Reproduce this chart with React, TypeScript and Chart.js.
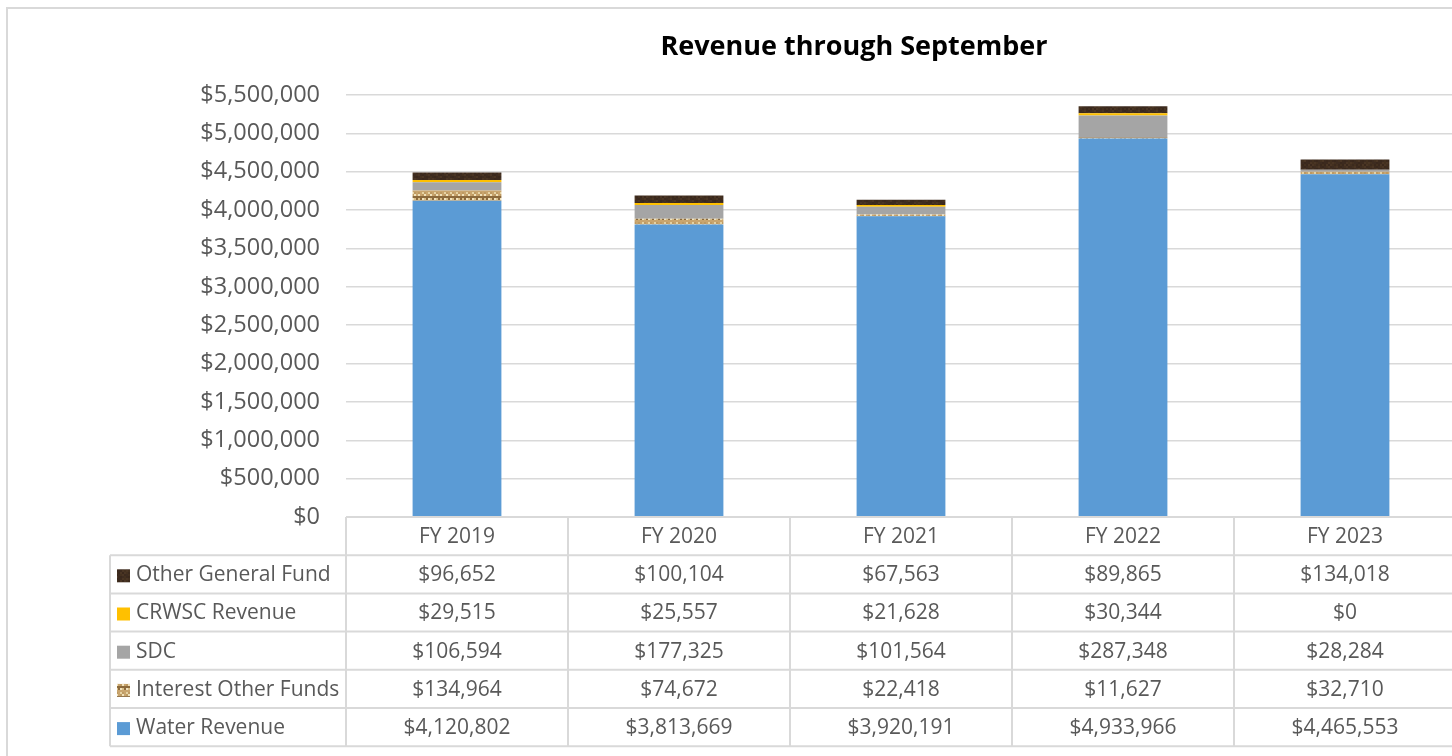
import React, { useEffect, useRef } from 'react';
import { Chart, registerables } from 'chart.js';

Chart.register(...registerables);

const title = 'Revenue through September';
const categories = ['FY 2019', 'FY 2020', 'FY 2021', 'FY 2022', 'FY 2023'];
const waterRevenue = [4120802, 3813669, 3920191, 4933966, 4465553];
const interestOtherFunds = [134964, 74672, 22418, 11627, 32710];
const sdc = [106594, 177325, 101564, 287348, 28284];
const crwscRevenue = [29515, 25557, 21628, 30344, 0];
const otherGeneralFund = [96652, 100104, 67563, 89865, 134018];
const seriesNames = ['Water Revenue', 'Interest Other Funds', 'SDC', 'CRWSC Revenue', 'Other General Fund'];
const yMax = 5500000;
const yStep = 500000;

const FONT = '"Open Sans", "Noto Sans", sans-serif';
const TEXT = '#595959';
const LINE = '#d9d9d9';

const fmt = (v: number) => '$' + Math.round(v).toLocaleString('en-US');

function makeTexture(base: string[], w: number, h: number, cell: number): CanvasPattern | string {
  const c = document.createElement('canvas');
  c.width = w * cell;
  c.height = h * cell;
  const g = c.getContext('2d');
  if (!g) return base[0];
  for (let y = 0; y < h; y++) {
    for (let x = 0; x < w; x++) {
      const k = (x * 7 + y * 13 + ((x * y) % 3)) % base.length;
      g.fillStyle = base[k];
      g.fillRect(x * cell, y * cell, cell, cell);
    }
  }
  const p = g.createPattern(c, 'repeat');
  return p || base[0];
}

export default function App() {
  const ref = useRef<HTMLCanvasElement | null>(null);

  useEffect(() => {
    if (!ref.current) return;
    const tan = makeTexture(['#C9A56E', '#E6D2A2', '#A8844E', '#D9BE88', '#8C6A3C', '#F0E2BC', '#BE9A62'], 11, 5, 2);
    const brown = makeTexture(['#3C2A1E', '#43301F', '#3A281C', '#4A3524', '#3E2C20'], 9, 4, 2);
    const colors: any[] = ['#5B9BD5', tan, '#A5A5A5', '#FFC000', brown];
    const values = [waterRevenue, interestOtherFunds, sdc, crwscRevenue, otherGeneralFund];

    const tablePlugin = {
      id: 'dataTable',
      beforeDraw(chart: any) {
        const { ctx } = chart;
        ctx.save();
        ctx.strokeStyle = LINE;
        ctx.lineWidth = 2;
        ctx.strokeRect(7, 8, chart.width + 20, chart.height + 20);
        ctx.restore();
      },
      afterDraw(chart: any) {
        const { ctx, chartArea } = chart;
        const xs = chart.scales.x;
        const n = categories.length;
        const colW = (chartArea.right - chartArea.left) / n;
        const top = chartArea.bottom;
        const rowH = 38.2;
        const tableLeft = 110;
        const rows = seriesNames.length;
        const bottom = top + rowH * (rows + 1);

        ctx.save();
        // title
        ctx.fillStyle = '#000000';
        ctx.font = `bold 27px ${FONT}`;
        ctx.textAlign = 'center';
        ctx.textBaseline = 'middle';
        ctx.fillText(title, 854, 47);

        ctx.strokeStyle = LINE;
        ctx.lineWidth = 2;
        ctx.beginPath();
        ctx.moveTo(chartArea.left, top);
        ctx.lineTo(chartArea.right, top);
        for (let r = 1; r <= rows + 1; r++) {
          const y = top + r * rowH;
          ctx.moveTo(tableLeft, y);
          ctx.lineTo(chartArea.right, y);
        }
        for (let i = 0; i <= n; i++) {
          const x = chartArea.left + i * colW;
          ctx.moveTo(x, top);
          ctx.lineTo(x, bottom);
        }
        ctx.moveTo(tableLeft, top + rowH);
        ctx.lineTo(tableLeft, bottom);
        ctx.stroke();

        ctx.fillStyle = TEXT;
        ctx.font = `21px ${FONT}`;
        ctx.textAlign = 'center';
        ctx.textBaseline = 'middle';
        for (let i = 0; i < n; i++) {
          const cx = xs.getPixelForValue(i);
          ctx.fillText(categories[i], cx, top + rowH / 2 + 1);
        }
        for (let r = 0; r < rows; r++) {
          const s = rows - 1 - r;
          const cy = top + rowH * (r + 1) + rowH / 2 + 1;
          ctx.fillStyle = colors[s];
          ctx.fillRect(tableLeft + 7, cy - 6, 13, 13);
          ctx.fillStyle = TEXT;
          ctx.textAlign = 'left';
          ctx.fillText(seriesNames[s], tableLeft + 26, cy);
          ctx.textAlign = 'center';
          for (let i = 0; i < n; i++) {
            const cx = xs.getPixelForValue(i);
            ctx.fillText(fmt(values[s][i]), cx, cy);
          }
        }
        ctx.restore();
      },
    };

    const chart = new Chart(ref.current, {
      type: 'bar',
      data: {
        labels: categories,
        datasets: values.map((v, i) => ({
          label: seriesNames[i],
          data: v,
          backgroundColor: colors[i],
          borderWidth: 0,
          barPercentage: 0.4,
          categoryPercentage: 1,
        })),
      },
      options: {
        animation: false,
        responsive: true,
        maintainAspectRatio: false,
        layout: { padding: { top: 95, bottom: 239, left: 0, right: 14 } },
        plugins: {
          legend: { display: false },
          tooltip: { enabled: false },
          title: { display: false },
        },
        scales: {
          x: { stacked: true, display: false },
          y: {
            stacked: true,
            min: 0,
            max: yMax,
            afterFit: (s: any) => {
              s.width = 346;
            },
            ticks: {
              stepSize: yStep,
              padding: 26,
              color: TEXT,
              font: { family: FONT, size: 23.5 },
              callback: (v: any) => fmt(Number(v)),
            },
            grid: { color: LINE, lineWidth: 1.5, drawTicks: false },
            border: { display: false },
          },
        },
      },
      plugins: [tablePlugin],
    });
    return () => chart.destroy();
  }, []);

  return (
    <div style={{ position: 'fixed', left: 0, top: 0, width: 1452, height: 756, overflow: 'hidden', background: '#fff' }}>
      <div style={{ position: 'relative', width: 1470, height: 756 }}>
        <canvas ref={ref} />
      </div>
    </div>
  );
}
